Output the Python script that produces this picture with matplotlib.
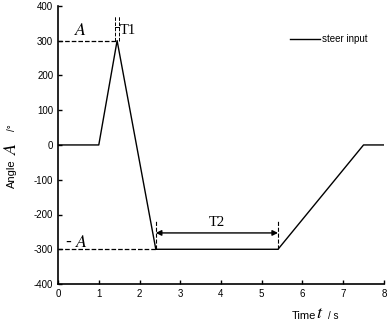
import matplotlib.pyplot as plt

# steer input profile
t = [0, 1.0, 1.45, 2.4, 5.4, 7.5, 8.0]
angle = [0, 0, 300, -300, -300, 0, 0]

xticks = [0, 1, 2, 3, 4, 5, 6, 7, 8]
yticks = [-400, -300, -200, -100, 0, 100, 200, 300, 400]

plt.rcParams["font.family"] = ["Liberation Sans", "DejaVu Sans"]
plt.rcParams["mathtext.fontset"] = "stix"
plt.rcParams["axes.unicode_minus"] = False

fig = plt.figure(figsize=(3.87, 3.25), dpi=100)
ax = fig.add_axes([0.150, 0.126, 0.842, 0.856])

ax.plot(t, angle, color="black", lw=1.0, label="steer input")

# reference dashed lines for +A / -A
ax.plot([0, 1.45], [300, 300], "k--", lw=0.9)
ax.plot([0, 2.4], [-300, -300], "k--", lw=0.9)

# T1 markers
ax.plot([1.40, 1.40], [300, 370], "k--", lw=0.7)
ax.plot([1.50, 1.50], [300, 370], "k--", lw=0.7)
ax.plot([1.40, 1.50], [340, 340], "k-", lw=0.7)
ax.text(1.52, 330, "T1", family="Liberation Serif", fontsize=10.5, va="center")

# T2 markers
ax.plot([2.4, 2.4], [-300, -220], "k--", lw=0.8)
ax.plot([5.4, 5.4], [-300, -220], "k--", lw=0.8)
ax.annotate("", xy=(2.4, -253), xytext=(5.4, -253),
            arrowprops=dict(arrowstyle="<|-|>", color="black", lw=1.0,
                            mutation_scale=8, shrinkA=0, shrinkB=0))
ax.text(3.9, -243, "T2", family="Liberation Serif", fontsize=10.5,
        ha="center", va="bottom")

ax.text(0.55, 330, r"$A$", fontsize=13, ha="center", va="center")
ax.text(0.45, -280, r"- $A$", fontsize=13, ha="center", va="center")

ax.set_xlim(0, 8)
ax.set_ylim(-400, 400)
ax.set_xticks(xticks)
ax.set_yticks(yticks)
ax.tick_params(direction="in", labelsize=7, length=3, width=1)
for s in ["top", "right"]:
    ax.spines[s].set_visible(False)
ax.spines["left"].set_linewidth(1.2)
ax.spines["bottom"].set_linewidth(1.2)

# y label pieces: "Angle", big italic A, unit
fig.text(12 / 387, 1 - 174 / 325, "Angle", rotation=90, fontsize=8,
         ha="center", va="center")
fig.text(12 / 387, 1 - 148 / 325, r"$A$", rotation=90, fontsize=13,
         ha="center", va="center")
fig.text(12 / 387, 1 - 128 / 325, "/°", rotation=90, fontsize=7,
         ha="center", va="center")

# x label pieces: "Time", big italic t, unit
fig.text(304 / 387, 1 - 316 / 325, "Time", fontsize=8, ha="center", va="center")
fig.text(320 / 387, 1 - 313 / 325, r"$t$", fontsize=13, ha="center", va="center")
fig.text(333 / 387, 1 - 316 / 325, "/ s", fontsize=7, ha="center", va="center")

ax.legend(loc="upper right", bbox_to_anchor=(0.975, 0.93), frameon=False,
          fontsize=7, handlelength=3.0, handletextpad=0.2)

fig.savefig("out.png", dpi=100)
